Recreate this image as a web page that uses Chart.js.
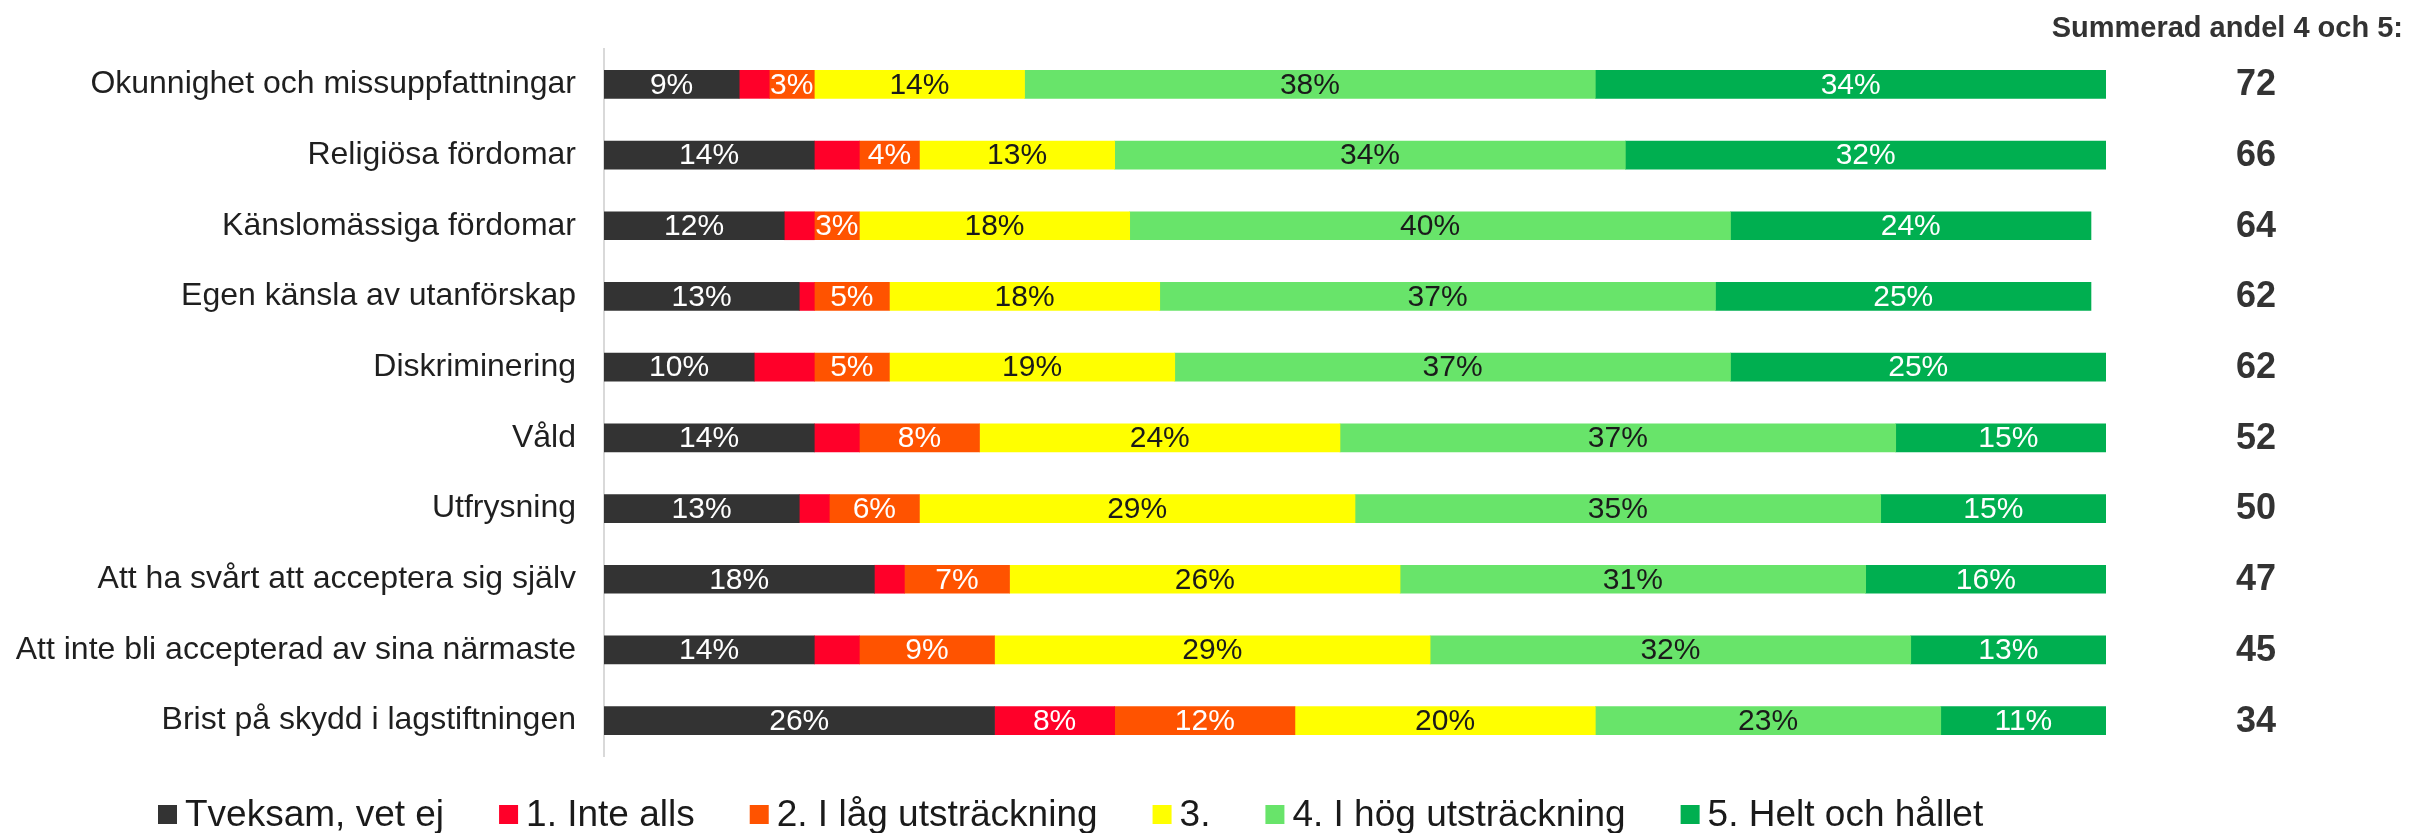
<!DOCTYPE html>
<html lang="sv">
<head>
<meta charset="utf-8">
<title>Summerad andel 4 och 5</title>
<script src="https://cdn.jsdelivr.net/npm/chart.js@4.4.1/dist/chart.umd.min.js"></script>
<style>
  html, body { margin: 0; padding: 0; background: #fff; }
  #wrap { width: 2410px; height: 833px; position: relative; }
</style>
</head>
<body>
<div id="wrap"><canvas id="chart" width="2410" height="833"></canvas></div>
<script>
  'use strict';

  const categories = [
    'Okunnighet och missuppfattningar',
    'Religiösa fördomar',
    'Känslomässiga fördomar',
    'Egen känsla av utanförskap',
    'Diskriminering',
    'Våld',
    'Utfrysning',
    'Att ha svårt att acceptera sig själv',
    'Att inte bli accepterad av sina närmaste',
    'Brist på skydd i lagstiftningen',
  ];

  const seriesNames = [
    'Tveksam, vet ej',
    '1. Inte alls',
    '2. I låg utsträckning',
    '3.',
    '4. I hög utsträckning',
    '5. Helt och hållet',
  ];

  const tveksam = [9, 14, 12, 13, 10, 14, 13, 18, 14, 26];
  const inteAlls = [2, 3, 2, 1, 4, 3, 2, 2, 3, 8];
  const lag = [3, 4, 3, 5, 5, 8, 6, 7, 9, 12];
  const tre = [14, 13, 18, 18, 19, 24, 29, 26, 29, 20];
  const hog = [38, 34, 40, 37, 37, 37, 35, 31, 32, 23];
  const helt = [34, 32, 24, 25, 25, 15, 15, 16, 13, 11];

  const summerad = [72, 66, 64, 62, 62, 52, 50, 47, 45, 34];
  const summeradTitle = 'Summerad andel 4 och 5:';

  const colors = ['#333333', '#ff0029', '#ff5300', '#ffff00', '#68e46a', '#00af50'];
  const labelColors = ['#ffffff', '#ffffff', '#ffffff', '#1a1a1a', '#1a1a1a', '#ffffff'];

  const FONT = "'Liberation Sans', Arial, sans-serif";

  // inside-bar percentage labels (small "Inte alls" values are left unlabelled)
  const barLabels = {
    id: 'barLabels',
    afterDatasetsDraw(chart) {
      const ctx = chart.ctx;
      ctx.save();
      ctx.font = '30px ' + FONT;
      ctx.textAlign = 'center';
      ctx.textBaseline = 'middle';
      chart.data.datasets.forEach((ds, di) => {
        const meta = chart.getDatasetMeta(di);
        meta.data.forEach((bar, i) => {
          const v = ds.data[i];
          if (!v) return;
          if (di === 1 && v < 5) return;
          ctx.fillStyle = labelColors[di];
          ctx.fillText(v + '%', (bar.x + bar.base) / 2, bar.y + 1);
        });
      });
      ctx.restore();
    },
  };

  // right column with summed share of 4 and 5
  const sumColumn = {
    id: 'sumColumn',
    afterDraw(chart) {
      const ctx = chart.ctx;
      const y = chart.scales.y;
      ctx.save();
      ctx.fillStyle = '#333333';
      ctx.textBaseline = 'middle';
      ctx.font = 'bold 29px ' + FONT;
      ctx.textAlign = 'right';
      ctx.fillText(summeradTitle, 2403, 29);
      ctx.font = 'bold 36px ' + FONT;
      ctx.textAlign = 'center';
      summerad.forEach((v, i) => {
        ctx.fillText(String(v), 2256, y.getPixelForValue(i) + 1);
      });
      ctx.restore();
    },
  };

  // legend row at the bottom
  const bottomLegend = {
    id: 'bottomLegend',
    afterDraw(chart) {
      const ctx = chart.ctx;
      ctx.save();
      ctx.font = '37px ' + FONT;
      ctx.textBaseline = 'middle';
      ctx.textAlign = 'left';
      let x = 158;
      const yc = 815;
      chart.data.datasets.forEach(ds => {
        ctx.fillStyle = ds.backgroundColor;
        ctx.fillRect(x, yc - 10, 19, 19);
        ctx.fillStyle = '#1a1a1a';
        ctx.fillText(ds.label, x + 27, yc + 1);
        x += 27 + ctx.measureText(ds.label).width + 55;
      });
      ctx.restore();
    },
  };

  const values = [tveksam, inteAlls, lag, tre, hog, helt];

  new Chart(document.getElementById('chart'), {
    type: 'bar',
    data: {
      labels: categories,
      datasets: values.map((data, i) => ({
        label: seriesNames[i],
        data,
        backgroundColor: colors[i],
        borderWidth: 0,
        barThickness: 28,
      })),
    },
    plugins: [barLabels, sumColumn, bottomLegend],
    options: {
      indexAxis: 'y',
      responsive: false,
      animation: false,
      devicePixelRatio: 1,
      layout: { padding: { left: 0, right: 304, top: 49, bottom: 77 } },
      plugins: {
        legend: { display: false },
        tooltip: { enabled: false },
      },
      scales: {
        x: {
          stacked: true,
          min: 0,
          max: 100,
          display: false,
        },
        y: {
          stacked: true,
          grid: { display: false, drawTicks: false },
          border: { display: true, color: '#d9d9d9', width: 2 },
          ticks: {
            padding: 28,
            color: '#1f1f1f',
            font: { size: 32, family: FONT },
          },
          afterFit: s => { s.width = 604; },
        },
      },
    },
  });
</script>
</body>
</html>
